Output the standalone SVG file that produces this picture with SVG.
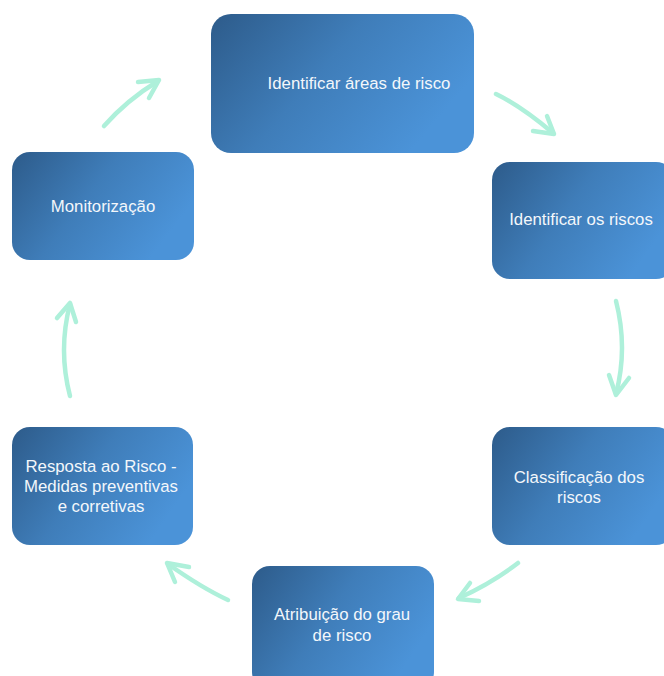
<svg xmlns="http://www.w3.org/2000/svg" width="664" height="676" viewBox="0 0 664 676">
<defs>
<linearGradient id="g" x1="0" y1="0" x2="1" y2="0.45">
<stop offset="0" stop-color="#2d5b8a"/>
<stop offset="0.5" stop-color="#3f7db9"/>
<stop offset="1" stop-color="#4b93d8"/>
</linearGradient>
<style>
.box{fill:url(#g);}
.lbl{fill:#f3f7fb;font-family:"Liberation Sans",Arial,sans-serif;font-size:16.8px;text-anchor:middle;}
.arr{fill:none;stroke:#aef0da;stroke-width:4.5;stroke-linecap:round;stroke-linejoin:round;}
</style>
</defs>
<rect width="664" height="676" fill="#ffffff"/>
<g id="connectors">
<path class="arr" d="M104,126 Q127,100 158,81"/>
<polyline class="arr" points="138,82 159,80 149,98"/>
<path class="arr" d="M496,94 Q521,106 553,133"/>
<polyline class="arr" points="533,131 554,134 547,116"/>
<path class="arr" d="M616,301 Q628,348 616,394"/>
<polyline class="arr" points="609,375 616,395 629,378"/>
<path class="arr" d="M518,563 Q492,583 459,598"/>
<polyline class="arr" points="470,583 458,599 479,601"/>
<path class="arr" d="M228,600 Q202,588 168,564"/>
<polyline class="arr" points="189,567 167,563 175,582"/>
<path class="arr" d="M70,396 Q58,350 70,304"/>
<polyline class="arr" points="57,318 70,303 76,322"/>
</g>
<g id="n1">
<rect class="box" x="211" y="14" width="263" height="139" rx="20"/>
<text class="lbl" x="359" y="89">Identificar áreas de risco</text>
</g>
<g id="n2">
<rect class="box" x="492" y="162" width="182" height="117" rx="18"/>
<text class="lbl" x="581" y="225">Identificar os riscos</text>
</g>
<g id="n3">
<rect class="box" x="492" y="427" width="182" height="118" rx="18"/>
<text class="lbl" x="579" y="483">Classificação dos</text>
<text class="lbl" x="579" y="503">riscos</text>
</g>
<g id="n4">
<rect class="box" x="252" y="566" width="182" height="124" rx="18"/>
<text class="lbl" x="342" y="620">Atribuição do grau</text>
<text class="lbl" x="342" y="641">de risco</text>
</g>
<g id="n5">
<rect class="box" x="12" y="427" width="181" height="118" rx="18"/>
<text class="lbl" x="101" y="472">Resposta ao Risco -</text>
<text class="lbl" x="101" y="492">Medidas preventivas</text>
<text class="lbl" x="101" y="512">e corretivas</text>
</g>
<g id="n6">
<rect class="box" x="12" y="152" width="182" height="108" rx="18"/>
<text class="lbl" x="103" y="212">Monitorização</text>
</g>
</svg>
